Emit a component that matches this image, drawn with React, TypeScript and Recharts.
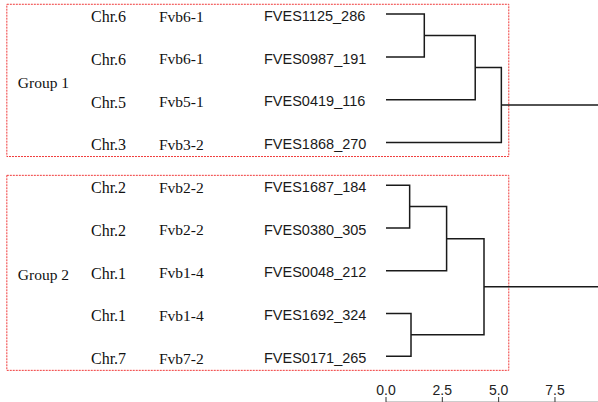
import { ScatterChart, Scatter, XAxis, YAxis, ReferenceArea } from "recharts";

// leaves, top to bottom
const chromosomes = ["Chr.6", "Chr.6", "Chr.5", "Chr.3", "Chr.2", "Chr.2", "Chr.1", "Chr.1", "Chr.7"];
const linkageGroups = ["Fvb6-1", "Fvb6-1", "Fvb5-1", "Fvb3-2", "Fvb2-2", "Fvb2-2", "Fvb1-4", "Fvb1-4", "Fvb7-2"];
const markers = [
  "FVES1125_286",
  "FVES0987_191",
  "FVES0419_116",
  "FVES1868_270",
  "FVES1687_184",
  "FVES0380_305",
  "FVES0048_212",
  "FVES1692_324",
  "FVES0171_265",
];

// merges: [left, right, height]; a number is a leaf index, "mN" is merge N
const merges: [number | string, number | string, number][] = [
  [0, 1, 1.7], // m0
  ["m0", 2, 3.96], // m1
  ["m1", 3, 5.12], // m2
  [4, 5, 1.05], // m3
  ["m3", 6, 2.69], // m4
  [7, 8, 1.11], // m5
  ["m4", "m5", 4.35], // m6
];

const groupNames = ["Group 1", "Group 2"];
const groupRoots = ["m2", "m6"];
const groupLeaves = [
  [0, 3],
  [4, 8],
];

const distanceTicks = [0, 2.5, 5, 7.5];
const X_MAX = 9.41;

type Pt = { x: number; y: number };

const nodes: Pt[] = [];
const nodePos = (ref: number | string): Pt =>
  typeof ref === "number" ? { x: 0, y: ref } : nodes[Number(ref.slice(1))];

const branches: Pt[][] = [];
merges.forEach(([a, b, h]) => {
  const pa = nodePos(a);
  const pb = nodePos(b);
  branches.push([pa, { x: h, y: pa.y }, { x: h, y: pb.y }, pb]);
  nodes.push({ x: h, y: (pa.y + pb.y) / 2 });
});
groupRoots.forEach((r) => {
  const p = nodePos(r);
  branches.push([p, { x: X_MAX, y: p.y }]);
});

const leafIndex = markers.map((_, i) => i);

function LeafLabel(props: any) {
  const { y, payload } = props;
  const i = payload.value;
  return (
    <g>
      <text x={91} y={y + 8} fontFamily="Liberation Serif" fontSize={16} fill="#111">
        {chromosomes[i]}
      </text>
      <text x={159} y={y + 7.5} fontFamily="Liberation Serif" fontSize={15.5} fill="#111">
        {linkageGroups[i]}
      </text>
      <text x={264} y={y + 6.7} fontFamily="Liberation Sans" fontSize={14.5} fill="#1a1a1a">
        {markers[i]}
      </text>
    </g>
  );
}

const groupLabel = (name: string) => (props: any) => {
  const vb = props.viewBox;
  return (
    <text
      x={vb.x + 11}
      y={vb.y + vb.height / 2 + 7.5}
      fontFamily="Liberation Serif"
      fontSize={15.5}
      fill="#111"
    >
      {name}
    </text>
  );
};

export default function App() {
  return (
    <div style={{ position: "absolute", left: 0, top: 0, background: "#fff" }}>
      <ScatterChart width={598} height={402} margin={{ top: 0, right: 0, bottom: 0, left: 385 }}>
        <XAxis
          type="number"
          dataKey="x"
          domain={[0, X_MAX]}
          allowDataOverflow
          ticks={distanceTicks}
          tickFormatter={(v) => v.toFixed(1)}
          mirror
          height={1.5}
          tickSize={5}
          tickMargin={2}
          axisLine={{ stroke: "#999" }}
          tickLine={{ stroke: "#333" }}
          tick={{ fill: "#222", fontSize: 14, fontFamily: "Liberation Sans" }}
        />
        <YAxis
          type="number"
          dataKey="y"
          domain={[-0.33, 9.07]}
          allowDataOverflow
          reversed
          ticks={leafIndex}
          interval={0}
          width={1}
          axisLine={false}
          tickLine={false}
          tick={(p: any) => <LeafLabel {...p} />}
        />
        {groupNames.map((name, g) => (
          <ReferenceArea
            key={name}
            x1={-16.83}
            x2={5.45}
            y1={groupLeaves[g][0] - 0.23}
            y2={groupLeaves[g][1] + 0.33}
            ifOverflow="visible"
            fill="none"
            stroke="#f03a3a"
            strokeWidth={1}
            strokeDasharray="2 1"
            label={groupLabel(name)}
          />
        ))}
        {branches.map((pts, i) => (
          <Scatter
            key={i}
            data={pts}
            line={{ stroke: "#1a1a1a", strokeWidth: 1.5 }}
            shape={() => <g />}
            isAnimationActive={false}
          />
        ))}
      </ScatterChart>
    </div>
  );
}
